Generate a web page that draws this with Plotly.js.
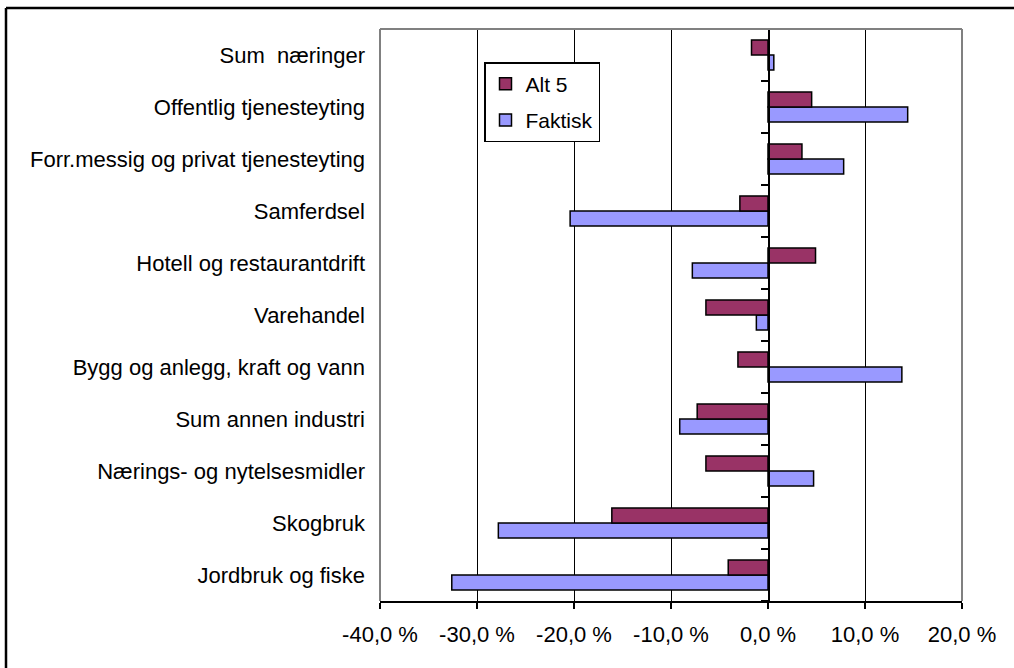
<!DOCTYPE html>
<html>
<head>
<meta charset="utf-8">
<script src="https://cdn.plot.ly/plotly-3.0.1.min.js"></script>
<style>
  html, body { margin: 0; padding: 0; background: #fff; }
  #chart { width: 1014px; height: 668px; }
</style>
</head>
<body>
<div id="chart"></div>
<script>
// Categories listed bottom to top
const categories = [
  "Jordbruk og fiske",
  "Skogbruk",
  "Nærings- og nytelsesmidler",
  "Sum annen industri",
  "Bygg og anlegg, kraft og vann",
  "Varehandel",
  "Hotell og restaurantdrift",
  "Samferdsel",
  "Forr.messig og privat tjenesteyting",
  "Offentlig tjenesteyting",
  "Sum\u00a0 næringer"
];
const alt5 =    [-4.1, -16.1, -6.4, -7.3, -3.1, -6.4,  4.9,  -2.9, 3.5,  4.5, -1.7];
const faktisk = [-32.6, -27.8, 4.7, -9.1, 13.8, -1.2, -7.8, -20.4, 7.8, 14.4,  0.6];

const xTickVals = [-40, -30, -20, -10, 0, 10, 20];
const xTickText = ["-40,0 %", "-30,0 %", "-20,0 %", "-10,0 %", "0,0 %", "10,0 %", "20,0 %"];

const xMin = xTickVals[0], xMax = xTickVals[xTickVals.length - 1];
const idx = categories.map((c, i) => i);
const boundaries = [-0.5].concat(idx.map(i => i + 0.5));

const FONT = "Liberation Sans, Arial, sans-serif";

const traces = [
  {
    type: "bar", orientation: "h", name: "Faktisk",
    y: idx, x: faktisk, legendgroup: "b", legendrank: 2,
    marker: { color: "#9999FF", line: { color: "#000", width: 1.5 } },
    hoverinfo: "skip"
  },
  {
    type: "bar", orientation: "h", name: "Alt 5",
    y: idx, x: alt5, legendgroup: "a", legendrank: 1,
    marker: { color: "#993366", line: { color: "#000", width: 1.5 } },
    hoverinfo: "skip"
  },
  {
    type: "scatter", x: [0], y: [0], yaxis: "y2", mode: "none",
    showlegend: false, hoverinfo: "skip"
  }
];

// pixel -> paper helpers (plot area: x 380..962, y 29..601)
const L = 380, R = 962, T = 29, B = 601;
const px = v => (v - L) / (R - L);
const py = v => (B - v) / (B - T);

const layout = {
  width: 1014, height: 668,
  margin: { l: L, r: 1014 - R, t: T, b: 668 - B, pad: 0 },
  paper_bgcolor: "#fff", plot_bgcolor: "#fff",
  font: { family: FONT, size: 22, color: "#000" },
  barmode: "group", bargap: 0.42, bargroupgap: 0,
  showlegend: true,
  legend: {
    x: px(484), y: py(62), xanchor: "left", yanchor: "top",
    bgcolor: "#fff", bordercolor: "#000", borderwidth: 1.5,
    traceorder: "grouped", tracegroupgap: 6, itemwidth: 30,
    font: { family: FONT, size: 21, color: "#000" }
  },
  xaxis: {
    range: [xMin, xMax], tickvals: xTickVals, ticktext: xTickText,
    showgrid: true, gridcolor: "#000", gridwidth: 1,
    zeroline: false, showline: true, linecolor: "#000", linewidth: 2,
    ticks: "outside", ticklen: 6, tickcolor: "#000", tickwidth: 1.5,
    ticklabelstandoff: 7, fixedrange: true
  },
  yaxis: {
    range: [-0.5, categories.length - 0.5],
    tickvals: idx, ticktext: categories,
    showgrid: false, zeroline: false, showline: false,
    ticks: "", ticklabelstandoff: 14, fixedrange: true
  },
  yaxis2: {
    overlaying: "y", anchor: "free", side: "left",
    position: (0 - xMin) / (xMax - xMin),
    range: [-0.5, categories.length - 0.5],
    tickvals: boundaries, showticklabels: false,
    showgrid: false, zeroline: false,
    showline: true, linecolor: "#000", linewidth: 1.5,
    ticks: "outside", ticklen: 7, tickcolor: "#000", tickwidth: 1.5,
    fixedrange: true
  },
  shapes: [
    // grey plot-area frame (left, top, right)
    { type: "line", xref: "paper", yref: "paper", x0: 0, x1: 0, y0: 0, y1: 1, line: { color: "#808080", width: 2 }, layer: "above" },
    { type: "line", xref: "paper", yref: "paper", x0: 0, x1: 1, y0: 1, y1: 1, line: { color: "#808080", width: 2 }, layer: "above" },
    { type: "line", xref: "paper", yref: "paper", x0: 1, x1: 1, y0: 0, y1: 1, line: { color: "#808080", width: 2 }, layer: "above" },
    // outer chart frame (top and left visible)
    { type: "line", xref: "paper", yref: "paper", x0: px(6), x1: px(1020), y0: py(8), y1: py(8), line: { color: "#000", width: 2.5 }, layer: "above" },
    { type: "line", xref: "paper", yref: "paper", x0: px(6), x1: px(6), y0: py(8), y1: py(680), line: { color: "#000", width: 2.5 }, layer: "above" }
  ]
};

Plotly.newPlot("chart", traces, layout, { staticPlot: true, displayModeBar: false });
</script>
</body>
</html>
